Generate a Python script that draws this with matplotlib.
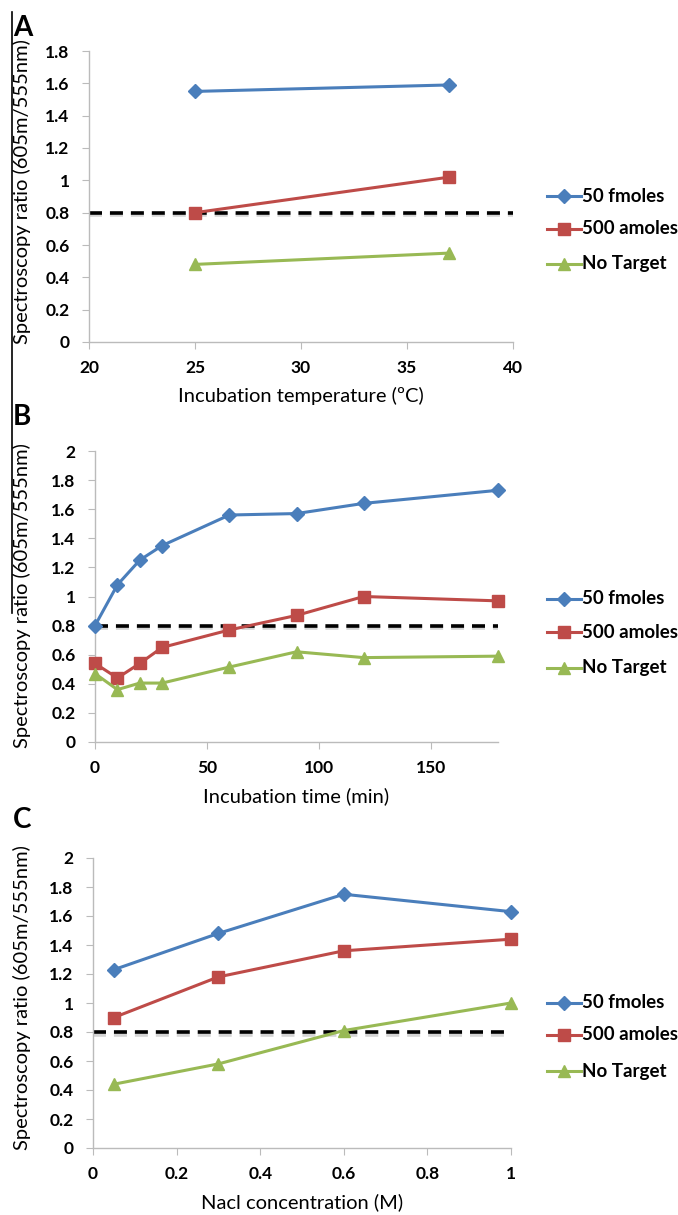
import matplotlib
matplotlib.use("Agg")
import matplotlib.pyplot as plt
import matplotlib.patheffects as pe
from matplotlib.lines import Line2D

plt.rcParams['font.family'] = ['Lato', 'DejaVu Sans']

# Panel A: incubation temperature
temp_x = [25, 37]
temp_50f = [1.55, 1.59]
temp_500a = [0.80, 1.02]
temp_none = [0.48, 0.55]

# Panel B: incubation time
time_x = [0, 10, 20, 30, 60, 90, 120, 180]
time_50f = [0.80, 1.08, 1.25, 1.35, 1.56, 1.57, 1.64, 1.73]
time_500a = [0.54, 0.44, 0.54, 0.65, 0.77, 0.87, 1.00, 0.97]
time_none = [0.47, 0.36, 0.405, 0.405, 0.515, 0.62, 0.58, 0.59]

# Panel C: NaCl concentration
nacl_x = [0.05, 0.3, 0.6, 1.0]
nacl_50f = [1.23, 1.48, 1.75, 1.63]
nacl_500a = [0.90, 1.18, 1.36, 1.44]
nacl_none = [0.44, 0.58, 0.81, 1.00]

series_names = ['50 fmoles', '500 amoles', 'No Target']
colors = ['#4A7EBB', '#BE4B48', '#98B954']
markers = ['D', 's', '^']
msizes = [7.5, 9, 9]
threshold = 0.8

W, H = 678, 1215
fig = plt.figure(figsize=(W / 100, H / 100), dpi=100)


def box(l, r, t, b):
    return [l / W, 1 - b / H, (r - l) / W, (b - t) / H]


panels = [
    dict(rect=box(89, 513, 51, 342), x=temp_x, ys=[temp_50f, temp_500a, temp_none],
         xlim=(20, 40), xticks=[20, 25, 30, 35, 40], ylim=(0, 1.8),
         yticks=[0, 0.2, 0.4, 0.6, 0.8, 1, 1.2, 1.4, 1.6, 1.8],
         xlabel='Incubation temperature (ºC)', letter='A', letter_y=28,
         ylab_y=192, leg_y=[196, 229, 264]),
    dict(rect=box(95, 498, 451, 742), x=time_x, ys=[time_50f, time_500a, time_none],
         xlim=(0, 180), xticks=[0, 50, 100, 150], ylim=(0, 2),
         yticks=[0, 0.2, 0.4, 0.6, 0.8, 1, 1.2, 1.4, 1.6, 1.8, 2],
         xlabel='Incubation time (min)', letter='B', letter_y=417,
         ylab_y=596, leg_y=[599, 632, 668]),
    dict(rect=box(93, 511, 858, 1148), x=nacl_x, ys=[nacl_50f, nacl_500a, nacl_none],
         xlim=(0, 1), xticks=[0, 0.2, 0.4, 0.6, 0.8, 1], ylim=(0, 2),
         yticks=[0, 0.2, 0.4, 0.6, 0.8, 1, 1.2, 1.4, 1.6, 1.8, 2],
         xlabel='Nacl concentration (M)', letter='C', letter_y=820,
         ylab_y=998, leg_y=[1003, 1035, 1071]),
]

shadow = [pe.SimpleLineShadow(offset=(0, -1.8), shadow_color='#888888', alpha=0.35),
          pe.Normal()]

for p in panels:
    ax = fig.add_axes(p['rect'])
    ax.set_xlim(*p['xlim'])
    ax.set_ylim(*p['ylim'])
    # dashed threshold line with soft shadow
    ax.plot(p['xlim'], [threshold, threshold], color='black', lw=2.6,
            dashes=(3.6, 2.2), clip_on=False, zorder=2, path_effects=shadow)
    for ys, c, m, ms in zip(p['ys'], colors, markers, msizes):
        ax.plot(p['x'], ys, color=c, lw=2.2, marker=m, markersize=ms,
                markeredgecolor=c, clip_on=False, zorder=3)
    ax.set_xticks(p['xticks'])
    ax.set_yticks(p['yticks'])
    ax.set_xticklabels(['%g' % v for v in p['xticks']], fontweight='bold', fontsize=12.5)
    ax.set_yticklabels(['%g' % v for v in p['yticks']], fontweight='bold', fontsize=12.5)
    for s in ['top', 'right']:
        ax.spines[s].set_visible(False)
    for s in ['left', 'bottom']:
        ax.spines[s].set_color('#BBBBBB')
        ax.spines[s].set_linewidth(1)
    ax.tick_params(direction='out', length=5, color='#BBBBBB')
    ax.tick_params(axis='y', pad=9)
    ax.tick_params(axis='x', pad=8)
    ax.set_xlabel(p['xlabel'], fontsize=14.5, labelpad=8)

    fig.text(22 / W, 1 - p['ylab_y'] / H, 'Spectroscopy ratio (605m/555nm)',
             rotation=90, ha='center', va='center', fontsize=14.5)
    fig.text(13 / W, 1 - p['letter_y'] / H, p['letter'], fontsize=20,
             fontweight='bold', ha='left', va='center')

    # legend entries
    for name, c, m, ms, ly in zip(series_names, colors, markers, msizes, p['leg_y']):
        yy = 1 - ly / H
        fig.add_artist(Line2D([547 / W, 581 / W], [yy, yy], color=c, lw=2.2))
        fig.add_artist(Line2D([564 / W], [yy], color=c, marker=m, markersize=ms,
                              markeredgecolor=c))
        fig.text(582 / W, yy, name, fontsize=13.5, fontweight='bold',
                 ha='left', va='center')

# left border line
fig.add_artist(Line2D([12 / W, 12 / W], [1 - 12 / H, 1 - 613 / H], color='black', lw=1.2))

fig.savefig('out.png', dpi=100)
